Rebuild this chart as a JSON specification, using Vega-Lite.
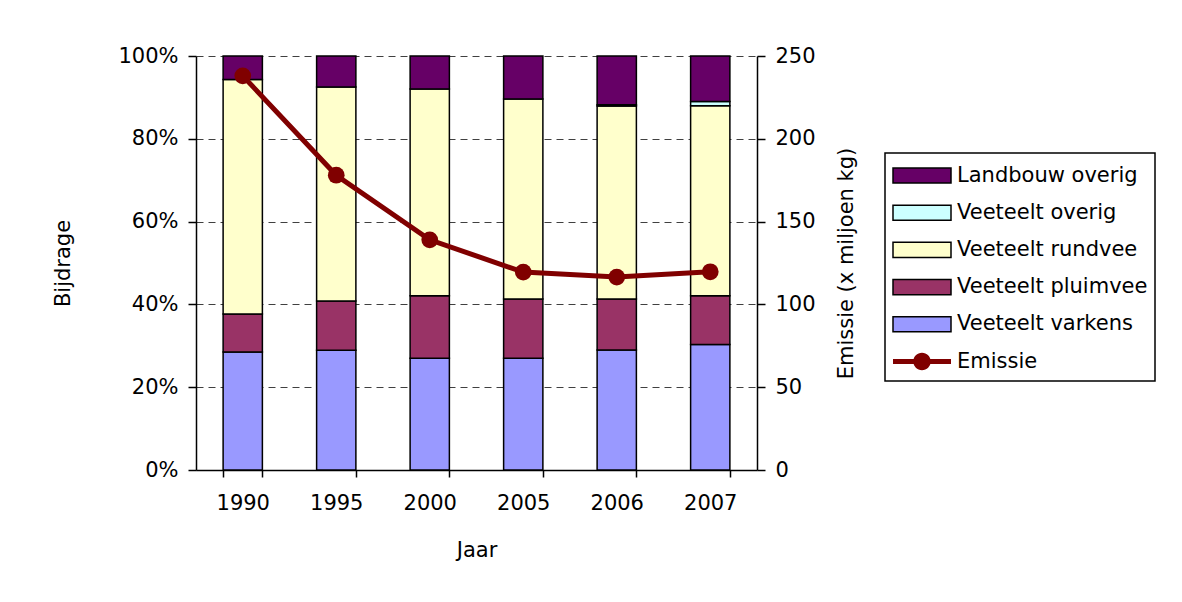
{
  "$schema": "https://vega.github.io/schema/vega-lite/v6.json",
  "width": 561,
  "height": 414,
  "autosize": {"type": "none"},
  "padding": {"left": 196, "top": 56, "right": 425, "bottom": 132},
  "background": "white",
  "config": {
    "font": "DejaVu Sans",
    "view": {"stroke": null},
    "axis": {
      "labelFont": "DejaVu Sans",
      "labelFontSize": 21,
      "labelColor": "black",
      "titleFont": "DejaVu Sans",
      "titleFontSize": 21,
      "titleFontWeight": "normal",
      "titleColor": "black",
      "domainColor": "black",
      "domainWidth": 1.5,
      "tickColor": "black",
      "tickWidth": 1.5,
      "tickSize": 8
    },
    "legend": {
      "orient": "none",
      "legendX": 689,
      "legendY": 97,
      "title": null,
      "strokeColor": "black",
      "strokeWidth": 1.5,
      "fillColor": "white",
      "padding": 7,
      "labelFont": "DejaVu Sans",
      "labelFontSize": 21,
      "labelColor": "black",
      "labelLimit": 400,
      "labelOffset": 34,
      "rowPadding": 10.2,
      "symbolType": "M-1,-0.52H3V0.52H-1Z",
      "symbolSize": 841,
      "symbolStrokeColor": "black",
      "symbolStrokeWidth": 1.5,
      "symbolOpacity": 1
    }
  },
  "datasets": {
    "aandelen": [
      {"jaar": "1990", "bron": "Veeteelt varkens", "n": 1, "aandeel": 0.285},
      {"jaar": "1990", "bron": "Veeteelt pluimvee", "n": 2, "aandeel": 0.092},
      {"jaar": "1990", "bron": "Veeteelt rundvee", "n": 3, "aandeel": 0.566},
      {"jaar": "1990", "bron": "Landbouw overig", "n": 5, "aandeel": 0.057},
      {"jaar": "1995", "bron": "Veeteelt varkens", "n": 1, "aandeel": 0.289},
      {"jaar": "1995", "bron": "Veeteelt pluimvee", "n": 2, "aandeel": 0.119},
      {"jaar": "1995", "bron": "Veeteelt rundvee", "n": 3, "aandeel": 0.517},
      {"jaar": "1995", "bron": "Landbouw overig", "n": 5, "aandeel": 0.075},
      {"jaar": "2000", "bron": "Veeteelt varkens", "n": 1, "aandeel": 0.270},
      {"jaar": "2000", "bron": "Veeteelt pluimvee", "n": 2, "aandeel": 0.151},
      {"jaar": "2000", "bron": "Veeteelt rundvee", "n": 3, "aandeel": 0.499},
      {"jaar": "2000", "bron": "Landbouw overig", "n": 5, "aandeel": 0.080},
      {"jaar": "2005", "bron": "Veeteelt varkens", "n": 1, "aandeel": 0.270},
      {"jaar": "2005", "bron": "Veeteelt pluimvee", "n": 2, "aandeel": 0.143},
      {"jaar": "2005", "bron": "Veeteelt rundvee", "n": 3, "aandeel": 0.483},
      {"jaar": "2005", "bron": "Landbouw overig", "n": 5, "aandeel": 0.104},
      {"jaar": "2006", "bron": "Veeteelt varkens", "n": 1, "aandeel": 0.290},
      {"jaar": "2006", "bron": "Veeteelt pluimvee", "n": 2, "aandeel": 0.123},
      {"jaar": "2006", "bron": "Veeteelt rundvee", "n": 3, "aandeel": 0.466},
      {"jaar": "2006", "bron": "Veeteelt overig", "n": 4, "aandeel": 0.003},
      {"jaar": "2006", "bron": "Landbouw overig", "n": 5, "aandeel": 0.118},
      {"jaar": "2007", "bron": "Veeteelt varkens", "n": 1, "aandeel": 0.303},
      {"jaar": "2007", "bron": "Veeteelt pluimvee", "n": 2, "aandeel": 0.118},
      {"jaar": "2007", "bron": "Veeteelt rundvee", "n": 3, "aandeel": 0.459},
      {"jaar": "2007", "bron": "Veeteelt overig", "n": 4, "aandeel": 0.010},
      {"jaar": "2007", "bron": "Landbouw overig", "n": 5, "aandeel": 0.110}
    ],
    "emissie": [
      {"jaar": "1990", "emissie": 238},
      {"jaar": "1995", "emissie": 178},
      {"jaar": "2000", "emissie": 139},
      {"jaar": "2005", "emissie": 119.5},
      {"jaar": "2006", "emissie": 116.5},
      {"jaar": "2007", "emissie": 119.7}
    ]
  },
  "encoding": {
    "x": {
      "field": "jaar",
      "type": "nominal",
      "sort": null,
      "scale": {"paddingInner": 0.58, "paddingOuter": 0.29},
      "axis": {
        "title": "Jaar",
        "labelAngle": 0,
        "tickBand": "extent",
        "tickSize": 7,
        "labelPadding": 15,
        "titlePadding": 26
      }
    }
  },
  "layer": [
    {
      "layer": [
        {
          "data": {"name": "aandelen"},
          "mark": {"type": "bar", "stroke": "black", "strokeWidth": 1.5},
          "encoding": {
            "y": {
              "field": "aandeel",
              "type": "quantitative",
              "stack": "zero",
              "scale": {"domain": [0, 1], "nice": false},
              "axis": {
                "title": "Bijdrage",
                "format": ".0%",
                "values": [0, 0.2, 0.4, 0.6, 0.8, 1],
                "grid": true,
                "gridColor": "#404040",
                "gridDash": [7, 5],
                "gridWidth": 1,
                "labelPadding": 10,
                "titlePadding": 44
              }
            },
            "color": {
              "field": "bron",
              "type": "nominal",
              "scale": {
                "domain": ["Landbouw overig", "Veeteelt overig", "Veeteelt rundvee", "Veeteelt pluimvee", "Veeteelt varkens", "Emissie"],
                "range": ["#660066", "#CCFFFF", "#FFFFCC", "#993366", "#9999FF", "#800000"]
              },
              "legend": {
                "encode": {
                  "symbols": {
                    "update": {
                      "shape": {"signal": "datum.value === 'Emissie' ? 'M-1,-0.17H3V0.17H-1Z M0.4,0A0.6,0.6 0 1,1 1.6,0A0.6,0.6 0 1,1 0.4,0Z' : 'M-1,-0.52H3V0.52H-1Z'"},
                      "stroke": {"signal": "datum.value === 'Emissie' ? 'transparent' : 'black'"}
                    }
                  }
                }
              }
            },
            "order": {"field": "n", "type": "quantitative", "sort": "ascending"}
          }
        },
        {
          "mark": {"type": "rule", "color": "#808080", "strokeWidth": 1.5},
          "encoding": {"y": {"datum": 1, "type": "quantitative"}}
        }
      ]
    },
    {
      "data": {"name": "emissie"},
      "encoding": {
        "y": {
          "field": "emissie",
          "type": "quantitative",
          "scale": {"domain": [0, 250], "nice": false},
          "axis": {
            "title": "Emissie (x miljoen kg)",
            "orient": "right",
            "titleAngle": 270,
            "titleBaseline": "bottom",
            "values": [0, 50, 100, 150, 200, 250],
            "grid": false,
            "labelPadding": 10,
            "titlePadding": 41
          }
        }
      },
      "layer": [
        {"mark": {"type": "line", "color": "#800000", "strokeWidth": 5}},
        {"mark": {"type": "point", "filled": true, "color": "#800000", "opacity": 1, "size": 280}}
      ]
    }
  ],
  "resolve": {"scale": {"y": "independent"}}
}
